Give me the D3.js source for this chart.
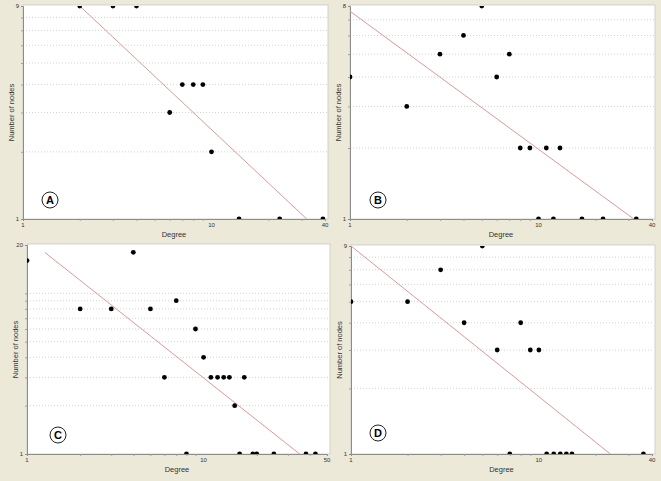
<!DOCTYPE html>
<html>
<head>
<meta charset="utf-8">
<script src="https://cdn.jsdelivr.net/npm/d3@7"></script>
<style>
  body { margin: 0; background: #ece9d8; }
  svg { display: block; font-family: Arial, "Liberation Sans", sans-serif; }
</style>
</head>
<body>
<svg id="chart" width="661" height="481"></svg>
<script>
// panel A
const degreesA = [2, 3, 4, 6, 7, 8, 9, 10, 14, 23, 39];
const nodesA   = [9, 9, 9, 3, 4, 4, 4, 2, 1, 1, 1];
const fitA     = [[2, 9], [32, 1]];

// panel B
const degreesB = [1, 2, 3, 4, 5, 6, 7, 8, 9, 11, 13, 10, 12, 17, 22, 33];
const nodesB   = [4, 3, 5, 6, 8, 4, 5, 2, 2, 2, 2, 1, 1, 1, 1, 1];
const fitB     = [[1, 7.6], [32, 1]];

// panel C
const degreesC = [1, 2, 3, 4, 5, 6, 7, 8, 9, 10, 11, 12, 13, 14, 15, 16, 17, 19, 20, 25, 38, 43];
const nodesC   = [16, 8, 8, 18, 8, 3, 9, 1, 6, 4, 3, 3, 3, 3, 2, 1, 3, 1, 1, 1, 1, 1];
const fitC     = [[1.26, 18], [35, 1]];

// panel D
const degreesD = [1, 2, 3, 4, 5, 6, 7, 8, 9, 10, 11, 12, 13, 14, 15, 36];
const nodesD   = [5, 5, 7, 4, 9, 3, 1, 4, 3, 3, 1, 1, 1, 1, 1, 1];
const fitD     = [[1, 9], [24, 1]];

const panels = [
  {id: "A", x: degreesA, y: nodesA, fit: fitA, xMax: 40, yMax: 9,
   x0: 23, x1: 325, y0: 6, y1: 219, badge: [50, 200]},
  {id: "B", x: degreesB, y: nodesB, fit: fitB, xMax: 40, yMax: 8,
   x0: 350, x1: 652, y0: 6, y1: 219, badge: [378, 200]},
  {id: "C", x: degreesC, y: nodesC, fit: fitC, xMax: 50, yMax: 20,
   x0: 27, x1: 327, y0: 245, y1: 454, badge: [58, 435]},
  {id: "D", x: degreesD, y: nodesD, fit: fitD, xMax: 40, yMax: 9,
   x0: 351, x1: 652, y0: 246, y1: 454, badge: [378, 433]}
];

const svg = d3.select("#chart");

const drawPanel = (p) => {
  const x = d3.scaleLog().domain([1, p.xMax]).range([p.x0, p.x1]);
  const y = d3.scaleLog().domain([1, p.yMax]).range([p.y1, p.y0]);
  const g = svg.append("g");

  g.append("rect")
    .attr("x", p.x0).attr("y", p.y0 - 1)
    .attr("width", p.x1 - p.x0 + 3).attr("height", p.y1 - p.y0 + 1)
    .attr("fill", "#fff").attr("stroke", "#c9c9c9").attr("stroke-width", 0.8);

  g.append("clipPath").attr("id", "clip" + p.id)
    .append("rect")
    .attr("x", p.x0).attr("y", p.y0)
    .attr("width", p.x1 - p.x0 + 1).attr("height", p.y1 - p.y0);

  // gridlines at 2..9 (and 10 when the axis goes past it)
  const gridVals = d3.range(2, Math.min(p.yMax, 10) + 1).filter(v => v < p.yMax);
  g.selectAll(".grid").data(gridVals).join("line")
    .attr("x1", p.x0).attr("x2", p.x1 + 2)
    .attr("y1", d => y(d)).attr("y2", d => y(d))
    .attr("stroke", "#c8c8c8").attr("stroke-width", 0.8)
    .attr("stroke-dasharray", "1,2");

  // axes
  const xAxis = d3.axisBottom(x)
    .tickValues(d3.range(2, 10).concat([20, 30, 40].filter(v => v < p.xMax)))
    .tickSize(2).tickFormat("");
  g.append("g").attr("transform", `translate(0,${p.y1})`).call(xAxis)
    .call(a => a.select(".domain").attr("stroke", "#8c8c8c"))
    .call(a => a.selectAll(".tick line").attr("stroke", "#a0a0a0"));

  const yAxis = d3.axisLeft(y)
    .tickValues(gridVals).tickSize(2).tickFormat("");
  g.append("g").attr("transform", `translate(${p.x0},0)`).call(yAxis)
    .call(a => a.select(".domain").attr("stroke", "#8c8c8c"))
    .call(a => a.selectAll(".tick line").attr("stroke", "#a0a0a0"));

  // tick labels
  g.selectAll(".xl").data([1, 10, p.xMax]).join("text")
    .attr("x", d => x(d)).attr("y", p.y1 + 8)
    .attr("text-anchor", "middle").attr("font-size", 6)
    .attr("fill", "#333").text(d => d);
  g.selectAll(".yl").data([1, p.yMax]).join("text")
    .attr("x", p.x0 - 4).attr("y", d => y(d) + 2)
    .attr("text-anchor", "end").attr("font-size", 6)
    .attr("fill", "#333").text(d => d);

  // axis titles
  g.append("text")
    .attr("x", (p.x0 + p.x1) / 2).attr("y", p.y1 + 18)
    .attr("text-anchor", "middle").attr("font-size", 7.5)
    .attr("fill", "#333").text("Degree");
  g.append("text")
    .attr("transform", `translate(${p.x0 - 9},${(p.y0 + p.y1) / 2}) rotate(-90)`)
    .attr("text-anchor", "middle").attr("font-size", 7.5)
    .attr("fill", "#333").text("Number of nodes");

  // fitted line
  g.append("line")
    .attr("clip-path", `url(#clip${p.id})`)
    .attr("x1", x(p.fit[0][0])).attr("y1", y(p.fit[0][1]))
    .attr("x2", x(p.fit[1][0])).attr("y2", y(p.fit[1][1]))
    .attr("stroke", "#d99a9a").attr("stroke-width", 1);

  // points
  g.append("g").attr("clip-path", `url(#clip${p.id})`)
    .selectAll("circle").data(p.x.map((d, i) => [d, p.y[i]])).join("circle")
    .attr("cx", d => x(d[0])).attr("cy", d => y(d[1]))
    .attr("r", 2.4).attr("fill", "#000");

  // panel letter
  g.append("circle")
    .attr("cx", p.badge[0]).attr("cy", p.badge[1]).attr("r", 8)
    .attr("fill", "#fff").attr("stroke", "#222").attr("stroke-width", 1);
  g.append("text")
    .attr("x", p.badge[0]).attr("y", p.badge[1] + 4)
    .attr("text-anchor", "middle").attr("font-size", 11)
    .attr("font-weight", "bold").attr("fill", "#000").text(p.id);
};

panels.forEach(drawPanel);
</script>
</body>
</html>
